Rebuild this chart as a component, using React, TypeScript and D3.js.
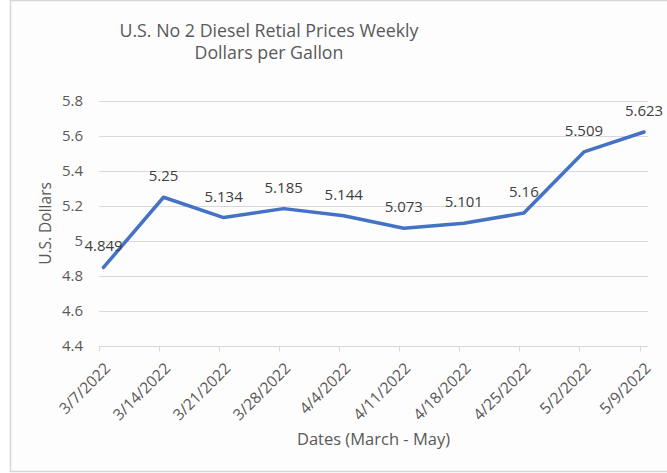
import React, { useEffect, useRef } from 'react';
import * as d3 from 'd3';

const dates = ['3/7/2022', '3/14/2022', '3/21/2022', '3/28/2022', '4/4/2022', '4/11/2022', '4/18/2022', '4/25/2022', '5/2/2022', '5/9/2022'];
const prices = [4.849, 5.25, 5.134, 5.185, 5.144, 5.073, 5.101, 5.16, 5.509, 5.623];
const yTicks = [4.4, 4.6, 4.8, 5.0, 5.2, 5.4, 5.6, 5.8];
const titleLines = ['U.S. No 2 Diesel Retial Prices Weekly', 'Dollars per Gallon'];

const App: React.FC = () => {
	const svgRef = useRef<SVGSVGElement>(null);

	useEffect(() => {
		if (svgRef.current == null) return;
		const width = 667;
		const height = 473;
		const font = '"Open Sans", "Noto Sans", sans-serif';
		const textColor = '#595959';
		const gridColor = '#d9d9d9';

		const svg = d3.select(svgRef.current)
			.attr('width', width)
			.attr('height', height);
		svg.selectAll('*').remove();

		// chart frame
		svg.append('rect').attr('x', 0).attr('y', 0).attr('width', width).attr('height', height).attr('fill', '#ffffff');
		svg.append('rect')
			.attr('x', 10.5).attr('y', 0.5)
			.attr('width', 700).attr('height', 471)
			.attr('fill', '#fdfdfd')
			.attr('stroke', '#d6d6d6')
			.attr('stroke-width', 1.5);

		const left = 99;
		const right = 648;
		const xScale = d3.scalePoint<string>()
			.domain(dates)
			.range([103.5, 644]);
		const yScale = d3.scaleLinear()
			.domain([4.4, 5.8])
			.range([346, 101]);

		// gridlines
		svg.append('g')
			.selectAll('line')
			.data(yTicks.slice(1))
			.join('line')
			.attr('x1', left).attr('x2', right)
			.attr('y1', d => Math.round(yScale(d)) + 0.5)
			.attr('y2', d => Math.round(yScale(d)) + 0.5)
			.attr('stroke', gridColor)
			.attr('stroke-width', 1);

		// x axis line + ticks
		const axisY = Math.round(yScale(4.4)) + 0.5;
		svg.append('line')
			.attr('x1', left).attr('x2', right)
			.attr('y1', axisY).attr('y2', axisY)
			.attr('stroke', gridColor)
			.attr('stroke-width', 1);
		svg.append('g')
			.selectAll('line')
			.data(dates)
			.join('line')
			.attr('x1', d => Math.round(xScale(d)! - 4.5) + 0.5)
			.attr('x2', d => Math.round(xScale(d)! - 4.5) + 0.5)
			.attr('y1', axisY).attr('y2', axisY + 5)
			.attr('stroke', gridColor);

		// y tick labels
		svg.append('g')
			.selectAll('text')
			.data(yTicks)
			.join('text')
			.attr('x', 83)
			.attr('y', d => yScale(d))
			.attr('dy', '0.35em')
			.attr('text-anchor', 'end')
			.style('font-family', font)
			.style('font-size', '15px')
			.style('fill', textColor)
			.text(d => d3.format('~g')(d));

		// x tick labels
		svg.append('g')
			.selectAll('text')
			.data(dates)
			.join('text')
			.attr('transform', d => `translate(${xScale(d)! + 4},${axisY + 19}) rotate(-45)`)
			.attr('text-anchor', 'end')
			.attr('dy', '0.35em')
			.style('font-family', font)
			.style('font-size', '15.5px')
			.style('fill', textColor)
			.text(d => d);

		// line
		const line = d3.line<number>()
			.x((_, i) => xScale(dates[i])!)
			.y(d => yScale(d));
		svg.append('path')
			.datum(prices)
			.attr('d', line)
			.attr('fill', 'none')
			.attr('stroke', '#4472c4')
			.attr('stroke-width', 3.5)
			.attr('stroke-linejoin', 'round')
			.attr('stroke-linecap', 'round');

		// data labels
		svg.append('g')
			.selectAll('text')
			.data(prices)
			.join('text')
			.attr('x', (_, i) => xScale(dates[i])!)
			.attr('y', d => yScale(d) - 16)
			.attr('text-anchor', 'middle')
			.style('font-family', font)
			.style('font-size', '15px')
			.style('fill', '#404040')
			.text(d => String(d));

		// title
		svg.append('g')
			.selectAll('text')
			.data(titleLines)
			.join('text')
			.attr('x', 269)
			.attr('y', (_, i) => 37 + i * 22)
			.attr('text-anchor', 'middle')
			.style('font-family', font)
			.style('font-size', '17.8px')
			.style('fill', textColor)
			.text(d => d);

		// axis titles
		svg.append('text')
			.attr('transform', `translate(51,${(yScale(4.4) + yScale(5.8)) / 2}) rotate(-90)`)
			.attr('text-anchor', 'middle')
			.style('font-family', font)
			.style('font-size', '15.5px')
			.style('fill', textColor)
			.text('U.S. Dollars');

		svg.append('text')
			.attr('x', (left + right) / 2)
			.attr('y', 445)
			.attr('text-anchor', 'middle')
			.style('font-family', font)
			.style('font-size', '16.5px')
			.style('fill', textColor)
			.text('Dates (March - May)');
	}, []);

	return <svg ref={svgRef} style={{ position: 'absolute', left: 0, top: 0 }}></svg>;
};

export default App;
